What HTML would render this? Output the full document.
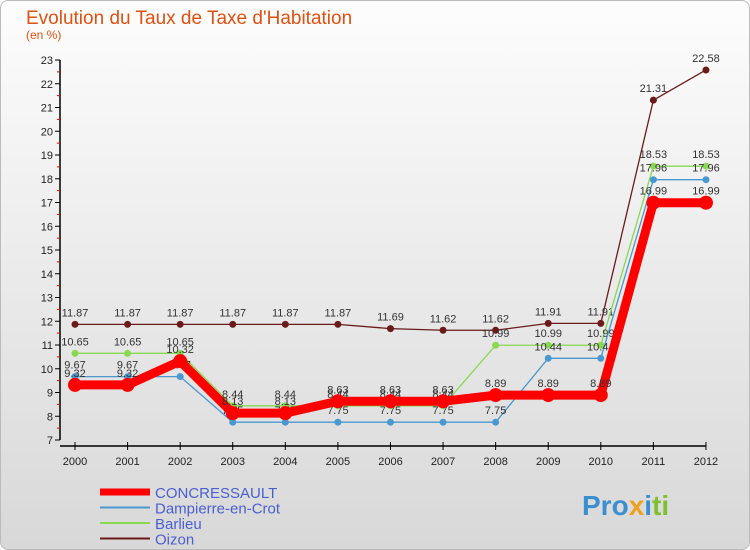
<!DOCTYPE html>
<html><head><meta charset="utf-8"><style>
body{margin:0;width:750px;height:550px;overflow:hidden;font-family:"Liberation Sans",sans-serif}
#wrap{position:absolute;left:0;top:0;width:748px;height:548px;border:1px solid #bbb;border-radius:8px;background:linear-gradient(#fdfdfd,#d8d8d8)}
</style></head><body>
<div id="wrap">
<svg id="svg" width="750" height="550" style="position:absolute;left:-1px;top:-1px">
<text x="26" y="24" font-size="19" fill="#e05010">Evolution du Taux de Taxe d'Habitation</text>
<text x="26" y="39" font-size="12" fill="#e05010">(en %)</text>
<g id="axes"></g><g id="series"></g><g id="legend"></g>
<text x="582" y="515" font-size="28" font-weight="bold" fill="#3a8fd0">Pro<tspan fill="#f0a020">x</tspan><tspan fill="#3a8fd0">i</tspan><tspan fill="#80c030">ti</tspan></text>
</svg></div>
<script>
const years=[2000,2001,2002,2003,2004,2005,2006,2007,2008,2009,2010,2011,2012];
const concressault=[9.32,9.32,10.32,8.13,8.13,8.63,8.63,8.63,8.89,8.89,8.89,16.99,16.99];
const dampierre=[9.67,9.67,9.67,7.75,7.75,7.75,7.75,7.75,7.75,10.44,10.44,17.96,17.96];
const barlieu=[10.65,10.65,10.65,8.44,8.44,8.44,8.44,8.44,10.99,10.99,10.99,18.53,18.53];
const oizon=[11.87,11.87,11.87,11.87,11.87,11.87,11.69,11.62,11.62,11.91,11.91,21.31,22.58];
const yTicks=[7,8,9,10,11,12,13,14,15,16,17,18,19,20,21,22,23];
const NS="http://www.w3.org/2000/svg";
const X=i=>75+i*52.58, Y=v=>440-(v-7)*23.75;
function mk(t,a,p){const e=document.createElementNS(NS,t);for(const k in a)e.setAttribute(k,a[k]);p.appendChild(e);return e;}
const ax=document.getElementById('axes');
const yl=mk('line',{x1:60,y1:Y(7),x2:60,y2:Y(23),stroke:'#000','stroke-width':1.5},ax);


yTicks.forEach(v=>{
 mk('line',{x1:55,y1:Y(v),x2:60,y2:Y(v),stroke:'#000'},ax);
 if(v<23) mk('line',{x1:57,y1:Y(v+0.5),x2:60,y2:Y(v+0.5),stroke:'#e00'},ax);
 const t=mk('text',{x:53,y:Y(v)+4,'font-size':11,'text-anchor':'end',fill:'#222'},ax);t.textContent=v;
 
 
});
const xl=mk('line',{x1:60,y1:446,x2:X(12),y2:446,stroke:'#000','stroke-width':1.5},ax);


years.forEach((y,i)=>{
 mk('line',{x1:X(i),y1:442,x2:X(i),y2:450,stroke:'#000'},ax);
 const t=mk('text',{x:X(i),y:465,'font-size':11,'text-anchor':'middle',fill:'#222'},ax);t.textContent=y;
 
 
});
const series=[
 {n:'Oizon',d:oizon,c:'#6b1a1a',w:1.3,r:3.5,name:'oizon'},
 {n:'Barlieu',d:barlieu,c:'#88d850',w:1.3,r:3.5,name:'barlieu'},
 {n:'Dampierre-en-Crot',d:dampierre,c:'#4a98d0',w:1.3,r:3.5,name:'dampierre'},
 {n:'CONCRESSAULT',d:concressault,c:'#f00',w:9,r:7,name:'concressault'}];
const sg=document.getElementById('series');
series.forEach(s=>{
 const g=mk('g',{},sg);
 
 
 mk('polyline',{points:s.d.map((v,i)=>X(i)+','+Y(v)).join(' '),fill:'none',stroke:s.c,'stroke-width':s.w},g);
 s.d.forEach((v,i)=>{
  const c=mk('circle',{cx:X(i),cy:Y(v),r:s.r,fill:s.c},g);
  
  
  const t=mk('text',{x:X(i),y:Y(v)-8,'font-size':11,'text-anchor':'middle',fill:'#333'},g);t.textContent=v;
 });
});
const lg=document.getElementById('legend');
[series[3],series[2],series[1],series[0]].forEach((s,i)=>{
 const y=492+i*15.5;
 const g=mk('g',{},lg);
 
 
 mk('line',{x1:100,y1:y,x2:150,y2:y,stroke:s.c,'stroke-width':i==0?7:2},g);
 const t=mk('text',{x:155,y:y+6,'font-size':15,fill:'#4a5fd0'},g);t.textContent=s.n;
});
</script></body></html>
